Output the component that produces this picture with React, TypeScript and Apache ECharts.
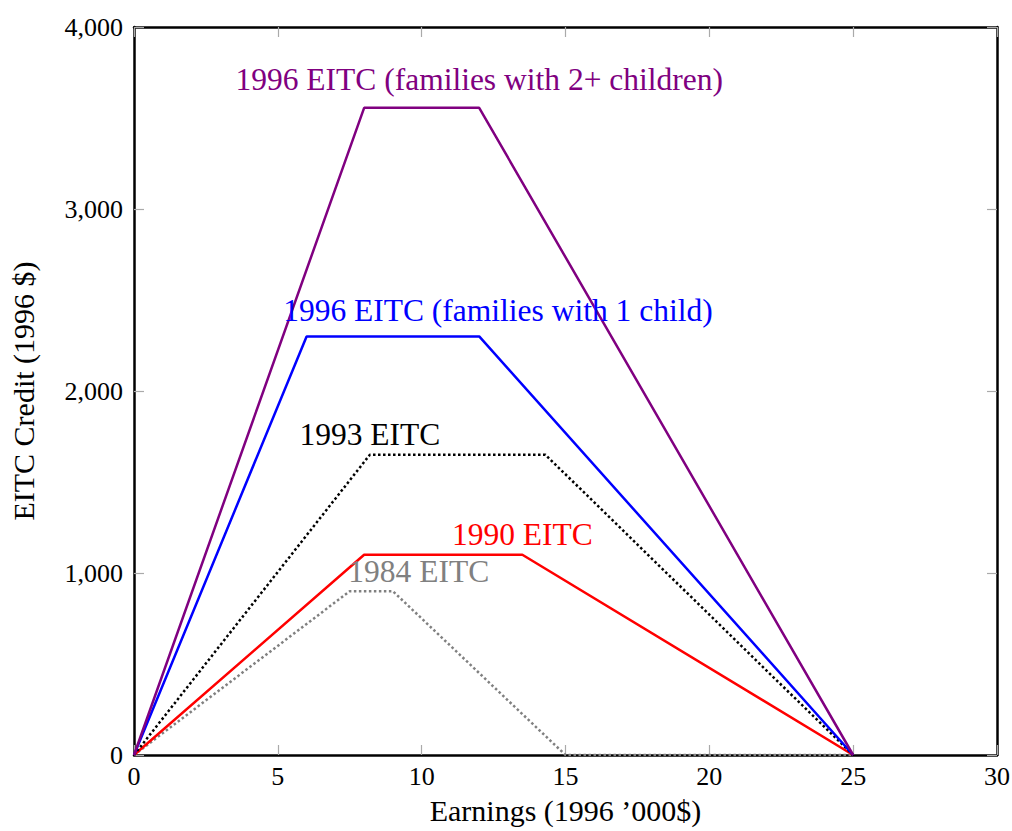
import React, { useEffect, useRef } from "react";
import * as echarts from "echarts";

const FONT = "Liberation Serif";

// Earnings ('000 $) vs EITC credit (1996 $)
const eitc1996Two: [number, number][] = [[0, 0], [8, 3556], [12, 3556], [25, 0]];
const eitc1996One: [number, number][] = [[0, 0], [6, 2300], [12, 2300], [25, 0]];
const eitc1993: [number, number][] = [[0, 0], [8.2, 1650], [14.3, 1650], [25, 0]];
const eitc1990: [number, number][] = [[0, 0], [8, 1100], [13.5, 1100], [25, 0]];
const eitc1984: [number, number][] = [[0, 0], [7.5, 900], [9, 900], [15, 0], [25, 0]];

const labelTexts = [
  "1996 EITC (families with 2+ children)",
  "1996 EITC (families with 1 child)",
  "1993 EITC",
  "1990 EITC",
  "1984 EITC",
];
const labelX = [12, 12.65, 8.2, 13.5, 9.9];
const labelY = [3710, 2440, 1760, 1210, 1010];
const colors = ["#800080", "#0000ff", "#000000", "#ff0000", "#808080"];

const xMin = 0, xMax = 30, xStep = 5;
const yMin = 0, yMax = 4000, yStep = 1000;

export default function App() {
  const ref = useRef<HTMLDivElement>(null);
  useEffect(() => {
    if (!ref.current) return;
    const chart = echarts.init(ref.current, undefined, { renderer: "svg" });
    const tickStyle = { show: true, inside: true, length: 10, lineStyle: { color: "#aaaaaa", width: 1.2 } };
    const axisLine = { show: true, onZero: false, lineStyle: { color: "#000", width: 2.5 } };
    const lineSeries = (data: [number, number][], color: string, dotted: boolean) => ({
      type: "line",
      data,
      symbol: "none",
      lineStyle: { color, width: 2.5, type: dotted ? "dotted" : "solid" },
      z: 3,
    });
    chart.setOption({
      animation: false,
      backgroundColor: "#fff",
      grid: { left: 134, right: 15, top: 27, bottom: 76, containLabel: false, outerBoundsMode: "none" },
      xAxis: [
        {
          type: "value", min: xMin, max: xMax, interval: xStep, position: "bottom",
          axisLine, axisTick: tickStyle, splitLine: { show: false },
          axisLabel: { color: "#000", fontFamily: FONT, fontSize: 26, margin: 8 },
          name: "Earnings (1996 \u2019000$)", nameLocation: "middle", nameGap: 40,
          nameTextStyle: { color: "#000", fontFamily: FONT, fontSize: 30 },
        },
        {
          type: "value", min: xMin, max: xMax, interval: xStep, position: "top",
          axisLine, axisTick: tickStyle, splitLine: { show: false }, axisLabel: { show: false },
        },
      ],
      yAxis: [
        {
          type: "value", min: yMin, max: yMax, interval: yStep, position: "left",
          axisLine, axisTick: tickStyle, splitLine: { show: false },
          axisLabel: {
            color: "#000", fontFamily: FONT, fontSize: 26, margin: 11,
            formatter: (v: number) => v.toLocaleString("en-US"),
          },
          name: "EITC Credit (1996 $)", nameLocation: "middle", nameGap: 96,
          nameTextStyle: { color: "#000", fontFamily: FONT, fontSize: 30 },
        },
        {
          type: "value", min: yMin, max: yMax, interval: yStep, position: "right",
          axisLine, axisTick: tickStyle, splitLine: { show: false }, axisLabel: { show: false },
        },
      ],
      series: [
        lineSeries(eitc1984, colors[4], true),
        lineSeries(eitc1990, colors[3], false),
        lineSeries(eitc1993, colors[2], true),
        lineSeries(eitc1996One, colors[1], false),
        lineSeries(eitc1996Two, colors[0], false),
        ...labelTexts.map((t, i) => ({
          type: "scatter",
          data: [[labelX[i], labelY[i]]],
          symbolSize: 1,
          itemStyle: { color: "rgba(0,0,0,0)", opacity: 1 },
          silent: true,
          z: 5,
          label: {
            show: true, position: "inside", formatter: t, opacity: 1,
            color: colors[i], fontFamily: FONT, fontSize: 31.5, textBorderWidth: 0,
          },
        })),
      ],
    });
    return () => chart.dispose();
  }, []);
  return <div ref={ref} style={{ position: "fixed", left: 0, top: 0, width: 1012, height: 831 }} />;
}
